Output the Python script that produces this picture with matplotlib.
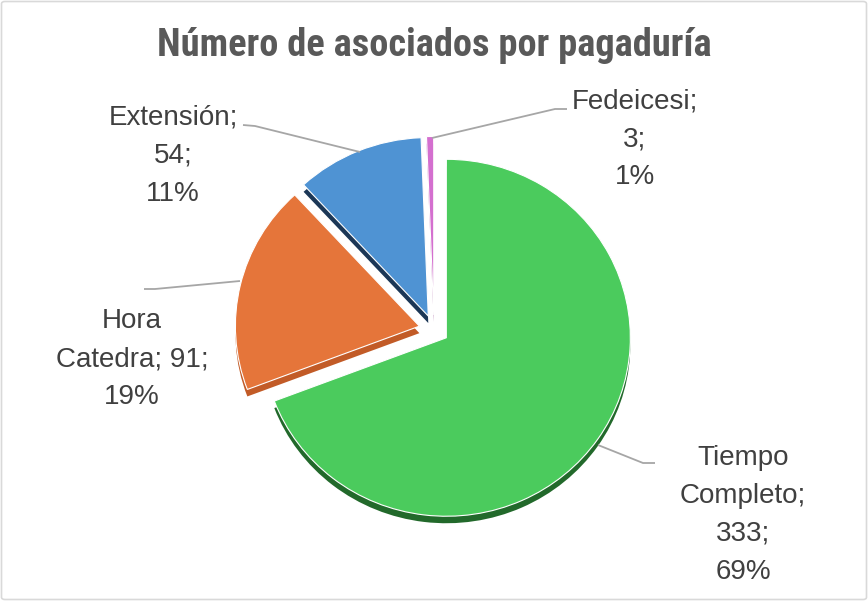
import matplotlib
matplotlib.use("Agg")
import matplotlib.pyplot as plt
from matplotlib.patches import FancyBboxPatch
from matplotlib import font_manager

categories = ["Tiempo Completo", "Hora Catedra", "Extensión", "Fedeicesi"]
values = [333, 91, 54, 3]
percents = ["69%", "19%", "11%", "1%"]
label_texts = ["Tiempo\nCompleto;\n333;\n69%", "Hora\nCatedra; 91;\n19%", "Extensión;\n54;\n11%", "Fedeicesi;\n3;\n1%"]
title = "Número de asociados por pagaduría"

top_colors = ["#4BCB5D", "#E5753A", "#4F93D3", "#D46FCF"]
side_colors = ["#22692B", "#C25B27", "#1C3756", "#94468F"]

W, H = 868, 601
fig = plt.figure(figsize=(W / 100, H / 100), dpi=100)

# pie axes: slightly squashed vertically to mimic the tilted 3D look
ax_pie = fig.add_axes([0, 0, 1, 1])
Cx, Cpy = 434, 329.5   # pie centre in pixels (y from top)
s = 0.97               # vertical squash
R = 184
depth = 7
expl = [15] * len(values)

ax_pie.pie(values, colors=side_colors, startangle=90, counterclock=False, explode=expl,
           radius=R, center=(0, -depth / s), wedgeprops=dict(linewidth=0))
ax_pie.pie(values, colors=top_colors, startangle=90, counterclock=False, explode=expl,
           radius=R, center=(0, 0), wedgeprops=dict(linewidth=0.8, edgecolor="white"))
ax_pie.set_aspect("auto")
ax_pie.set_xlim(-Cx, W - Cx)
lo = -(H - Cpy) / s
ax_pie.set_ylim(lo, lo + H / s)
ax_pie.axis("off")

# overlay axes in pixel coordinates for leaders and labels
ax = fig.add_axes([0, 0, 1, 1])
ax.set_xlim(0, W)
ax.set_ylim(H, 0)
ax.axis("off")

leaders = [
    [(655, 463), (643, 463), (598, 445)],
    [(144, 289), (155, 289), (240, 281)],
    [(243, 125), (255, 126), (360, 152)],
    [(567, 109), (555, 109), (432, 138)],
]
for pts in leaders:
    ax.plot([p[0] for p in pts], [p[1] for p in pts], color="#A6A6A6", lw=1.3,
            solid_capstyle="butt")

label_pos = [(743, 515), (132, 359), (173, 156), (635, 139)]
for txt, (x, y) in zip(label_texts, label_pos):
    ax.text(x, y, txt, ha="center", va="center", fontsize=20,
            color="#404040", linespacing=1.6,
            family=["Liberation Sans", "DejaVu Sans"])

names = {f.name for f in font_manager.fontManager.ttflist}
cond = [n for n in ["Roboto Condensed", "Liberation Sans Narrow", "Open Sans Condensed",
                    "Noto Sans Condensed", "DejaVu Sans Condensed"] if n in names]
if cond:
    fam = [cond[0], "DejaVu Sans"]
    tsize = 27.6
else:
    fam = ["Liberation Sans", "DejaVu Sans"]
    tsize = 23
fig.text(0.5, (H - 45) / H, title, ha="center", va="center", fontsize=tsize,
         fontweight="bold", color="#595959", family=fam, fontstretch="condensed")

border = FancyBboxPatch((1.5 / W, 1.5 / H), (W - 3) / W, (H - 3) / H,
                        boxstyle="round,pad=0,rounding_size=0.004",
                        transform=fig.transFigure, fill=False,
                        edgecolor="#D9D9D9", lw=1.2)
fig.patches.append(border)

fig.savefig("out.png", dpi=100, facecolor="white")
